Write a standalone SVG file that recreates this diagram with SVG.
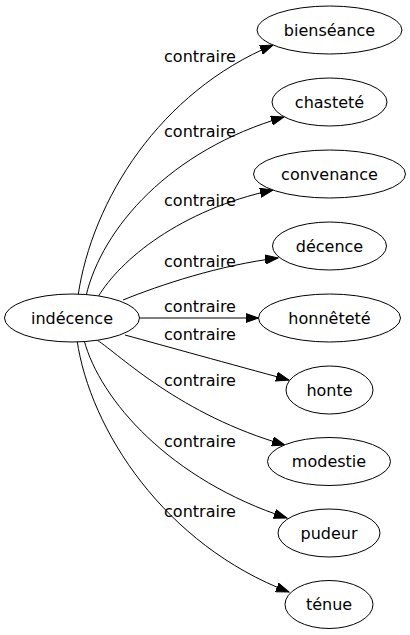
<svg xmlns="http://www.w3.org/2000/svg" width="410" height="635" viewBox="0 0 410 635">
<defs>
<style>
.node ellipse{fill:#fff;stroke:#000;stroke-width:1}
.node text{font-family:"DejaVu Sans",sans-serif;font-size:16px;text-anchor:middle;fill:#000}
.edges path{fill:none;stroke:#000;stroke-width:1;marker-end:url(#arr)}
.edges text{font-family:"DejaVu Sans",sans-serif;font-size:16px;text-anchor:middle;fill:#000}
</style>
<marker id="arr" markerUnits="userSpaceOnUse" markerWidth="14" markerHeight="10" refX="13" refY="5" orient="auto">
<path d="M0,0.4 L13,5 L0,9.6 z" fill="#000" stroke="#000" stroke-width="1"/>
</marker>
</defs>
<rect width="410" height="635" fill="#fff"/>
<g class="edges" id="edges">
<path d="M78,296 C92,200 160,92 273,45"/>
<text x="200" y="61.5">contraire</text>
<path d="M86,296 C102,228 170,150 284,117"/>
<text x="200" y="136.5">contraire</text>
<path d="M98,297 C120,260 180,210 273,190"/>
<text x="200" y="205.5">contraire</text>
<path d="M123,300 C160,285 220,265 278,258"/>
<text x="200" y="266.5">contraire</text>
<path d="M140,318 L258.5,318"/>
<text x="200" y="311.5">contraire</text>
<path d="M125,335 C165,346 230,364 289,380"/>
<text x="200" y="339.5">contraire</text>
<path d="M97,340 C120,355 180,415 285,445"/>
<text x="200" y="385.5">contraire</text>
<path d="M84,340 C100,400 170,480 287,518"/>
<text x="200" y="446.5">contraire</text>
<path d="M77,340 C90,430 165,545 289,592"/>
<text x="200" y="516.5">contraire</text>
</g>
<g class="node" id="n-indecence"><ellipse cx="72" cy="318" rx="67.5" ry="24"/><text x="72" y="323.5">indécence</text></g>
<g class="node" id="n-bienseance"><ellipse cx="329.5" cy="30" rx="72.5" ry="24"/><text x="329.5" y="35.5">bienséance</text></g>
<g class="node" id="n-chastete"><ellipse cx="329.5" cy="102" rx="57.5" ry="24"/><text x="329.5" y="107.5">chasteté</text></g>
<g class="node" id="n-convenance"><ellipse cx="329.5" cy="174" rx="76" ry="24"/><text x="329.5" y="179.5">convenance</text></g>
<g class="node" id="n-decence"><ellipse cx="329.5" cy="246" rx="57" ry="24"/><text x="329.5" y="251.5">décence</text></g>
<g class="node" id="n-honnetete"><ellipse cx="329.5" cy="318" rx="71" ry="24"/><text x="329.5" y="323.5">honnêteté</text></g>
<g class="node" id="n-honte"><ellipse cx="329.5" cy="390" rx="43.5" ry="24"/><text x="329.5" y="395.5">honte</text></g>
<g class="node" id="n-modestie"><ellipse cx="329" cy="461.5" rx="61.5" ry="24"/><text x="329" y="467">modestie</text></g>
<g class="node" id="n-pudeur"><ellipse cx="329" cy="533" rx="51" ry="24"/><text x="329" y="538.5">pudeur</text></g>
<g class="node" id="n-tenue"><ellipse cx="329" cy="604.5" rx="44" ry="24"/><text x="329" y="610">ténue</text></g>
</svg>
